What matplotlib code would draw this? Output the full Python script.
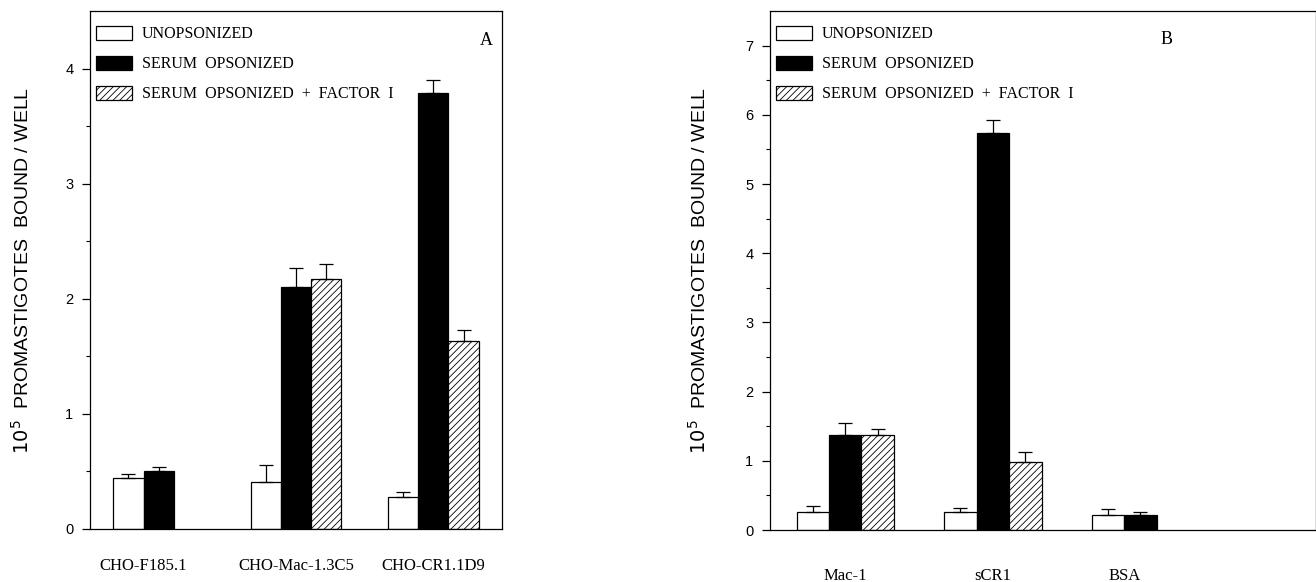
import matplotlib
matplotlib.use("Agg")
import matplotlib.pyplot as plt
import numpy as np
from matplotlib.patches import Patch

# panel A: CHO transfectants
groups_a = ["CHO-F185.1", "CHO-Mac-1.3C5", "CHO-CR1.1D9"]
unops_a = [0.44, 0.405, 0.28]
unops_a_top = [0.48, 0.56, 0.32]
serum_a = [0.50, 2.10, 3.79]
serum_a_top = [0.54, 2.27, 3.90]
factor_a = [None, 2.175, 1.63]
factor_a_top = [None, 2.30, 1.73]

# panel B: purified ligands
groups_b = ["Mac-1", "sCR1", "BSA"]
unops_b = [0.26, 0.255, 0.22]
unops_b_top = [0.34, 0.32, 0.30]
serum_b = [1.37, 5.74, 0.21]
serum_b_top = [1.55, 5.93, 0.26]
factor_b = [1.37, 0.98, None]
factor_b_top = [1.46, 1.13, None]

labels = ["UNOPSONIZED", "SERUM  OPSONIZED", "SERUM  OPSONIZED  +  FACTOR  I"]
YLABEL = r"$10^5$  PROMASTIGOTES  BOUND / WELL"

plt.rcParams["hatch.linewidth"] = 0.6
SERIF = ["Liberation Serif", "DejaVu Serif"]
SANS = ["Liberation Sans", "DejaVu Sans"]
W = 0.22


def panel(ax, groups, series, tops, ymax, letter, letter_xy, xlim, label_pad, leg_xy):
    styles = [dict(facecolor="white", edgecolor="black"),
              dict(facecolor="black", edgecolor="black"),
              dict(facecolor="white", edgecolor="black", hatch="/////")]
    offs = [-W, 0, W]
    centers = []
    for g in range(len(groups)):
        used = []
        for s in range(3):
            v = series[s][g]
            if v is None:
                continue
            x = g + offs[s]
            used.append(x)
            ax.bar(x, v, width=W, linewidth=0.9, zorder=2, **styles[s])
            ax.errorbar(x, v, yerr=[[0], [tops[s][g] - v]], fmt="none",
                        ecolor="black", elinewidth=0.9, capsize=5, capthick=0.9, zorder=3)
        centers.append(np.mean(used))
    ax.set_xlim(*xlim)
    ax.set_ylim(0, ymax)
    ax.set_xticks(centers)
    ax.set_xticklabels(groups, family=SERIF, fontsize=12)
    ax.tick_params(axis="x", length=0, pad=label_pad)
    ax.set_yticks(np.arange(0, int(ymax) + 1))
    ax.set_yticks(np.arange(0.5, ymax, 1.0), minor=True)
    ax.tick_params(axis="y", direction="out", length=6, width=0.9, labelsize=10.5, pad=6)
    ax.tick_params(axis="y", which="minor", direction="out", length=3, width=0.8)
    for lab in ax.get_yticklabels():
        lab.set_family(SANS)
    for sp in ax.spines.values():
        sp.set_linewidth(0.9)
    ax.set_ylabel(YLABEL, family=SANS, fontsize=14)
    ax.text(*letter_xy, letter, transform=ax.transAxes, family=SERIF, fontsize=13,
            ha="center", va="center")
    handles = [Patch(facecolor="white", edgecolor="black", linewidth=0.9),
               Patch(facecolor="black", edgecolor="black", linewidth=0.9),
               Patch(facecolor="white", edgecolor="black", hatch="/////", linewidth=0.9)]
    ax.legend(handles, labels, loc="upper left", bbox_to_anchor=leg_xy, frameon=False,
              prop={"family": SERIF, "size": 11.5}, handlelength=2.25, handleheight=0.95,
              handletextpad=0.6, labelspacing=0.85, borderaxespad=0, borderpad=0)


fig = plt.figure(figsize=(13.16, 5.82), dpi=100)
ax_a = fig.add_axes([0.0684, 0.0911, 0.3131, 0.890])
ax_b = fig.add_axes([0.5851, 0.0893, 0.4149, 0.8918])

panel(ax_a, groups_a, [unops_a, serum_a, factor_a], [unops_a_top, serum_a_top, factor_a_top],
      4.5, "A", (0.961, 0.944), (-0.5, 2.5), 21, (0.0146, 0.971))
panel(ax_b, groups_b, [unops_b, serum_b, factor_b], [unops_b_top, serum_b_top, factor_b_top],
      7.5, "B", (0.727, 0.946), (-0.51, 3.19), 27, (0.011, 0.971))

ax_a.yaxis.set_label_coords(-0.138, 0.5)
ax_b.yaxis.set_label_coords(-0.11, 0.5)

fig.savefig("out.png", dpi=100)
